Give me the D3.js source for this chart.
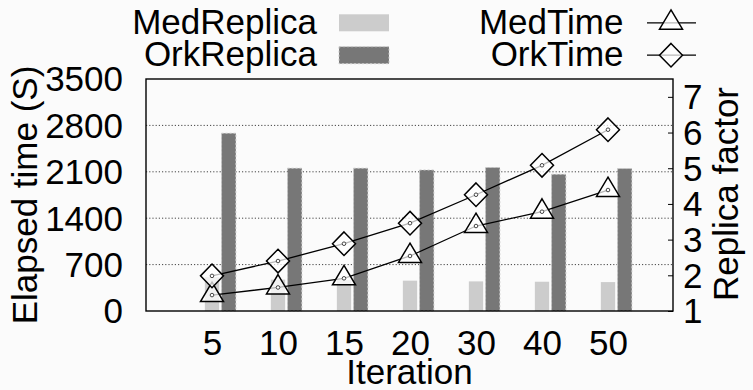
<!DOCTYPE html>
<html>
<head>
<meta charset="utf-8">
<script src="https://cdn.jsdelivr.net/npm/d3@7"></script>
<style>
  html, body { margin: 0; padding: 0; background: #fbfbfb; }
  svg { display: block; font-family: "Liberation Sans", Arial, sans-serif; }
</style>
</head>
<body>
<svg id="chart" width="753" height="390"></svg>
<script>
// Iterations on the x axis
const iterations = ["5", "10", "15", "20", "30", "40", "50"];
// Replica factor per iteration (right axis, bars)
const medReplica = [1.95, 1.88, 1.87, 1.85, 1.83, 1.82, 1.81];
const orkReplica = [5.98, 5.0, 5.0, 4.95, 5.02, 4.83, 4.99];
// Elapsed time in seconds (left axis, lines)
const medTime = [240, 355, 493, 830, 1282, 1498, 1825];
const orkTime = [530, 754, 1015, 1325, 1754, 2198, 2735];
// Axis ticks
const timeTicks = [0, 700, 1400, 2100, 2800, 3500];
const replicaTicks = [1, 2, 3, 4, 5, 6, 7];

const plot = { left: 146, right: 673, top: 79, bottom: 311 };
const FONT = 35;
const FAMILY = "Liberation Sans, Arial, sans-serif";

const svg = d3.select("#chart");

const x = d3.scalePoint()
  .domain(iterations)
  .range([plot.left + 66, plot.left + 462]);
const yTime = d3.scaleLinear().domain([0, 3500]).range([plot.bottom, plot.top]);
const yRep = d3.scaleLinear().domain([1, 7.5]).range([plot.bottom, plot.top]);

const barW = 14.3;
const barGap = 16.7;

// Dotted horizontal grid from the time axis
svg.append("g")
  .selectAll("line")
  .data(timeTicks.filter(t => t > 0 && t < 3500))
  .join("line")
  .attr("x1", plot.left).attr("x2", plot.right)
  .attr("y1", d => yTime(d)).attr("y2", d => yTime(d))
  .attr("stroke", "#444").attr("stroke-width", 1)
  .attr("stroke-dasharray", "1.2,2");

// Replica bars
const bars = svg.append("g");
bars.selectAll("rect.med")
  .data(iterations)
  .join("rect")
  .attr("class", "med")
  .attr("x", d => x(d) - barW / 2)
  .attr("width", barW)
  .attr("y", (d, i) => yRep(medReplica[i]))
  .attr("height", (d, i) => yRep(1) - yRep(medReplica[i]))
  .attr("fill", "#cccccc");
bars.selectAll("rect.ork")
  .data(iterations)
  .join("rect")
  .attr("class", "ork")
  .attr("x", d => x(d) + barGap - barW / 2)
  .attr("width", barW)
  .attr("y", (d, i) => yRep(orkReplica[i]))
  .attr("height", (d, i) => yRep(1) - yRep(orkReplica[i]))
  .attr("fill", "#777777")
  .attr("stroke", "#c8c8c8").attr("stroke-width", 1)
  .attr("stroke-dasharray", "2,2");

// Marker shapes
function triPath(s) {
  // centroid at origin, width s
  const h = s * 0.84;
  return `M0,${-2 * h / 3} L${s / 2},${h / 3} L${-s / 2},${h / 3} Z`;
}
function diaPath(s) {
  return `M0,${-s / 2 - 0.3} L${s / 2},0 L0,${s / 2 + 0.3} L${-s / 2},0 Z`;
}

const line = d3.line();
function drawSeries(values, shape) {
  const pts = iterations.map((d, i) => [x(d), yTime(values[i])]);
  const g = svg.append("g");
  g.append("path")
    .attr("d", line(pts))
    .attr("fill", "none").attr("stroke", "#000").attr("stroke-width", 1.3);
  g.selectAll("path.m")
    .data(pts)
    .join("path")
    .attr("class", "m")
    .attr("transform", p => `translate(${p[0]},${p[1]})`)
    .attr("d", shape)
    .attr("fill", "rgba(255,255,255,0.72)")
    .attr("stroke", "#000").attr("stroke-width", 1.5);
  g.selectAll("circle")
    .data(pts)
    .join("circle")
    .attr("cx", p => p[0]).attr("cy", p => p[1])
    .attr("r", 1.8)
    .attr("fill", "#fff").attr("stroke", "#333").attr("stroke-width", 0.9);
}
drawSeries(medTime, triPath(23));
drawSeries(orkTime, diaPath(23));

// Frame
svg.append("rect")
  .attr("x", plot.left).attr("y", plot.top)
  .attr("width", plot.right - plot.left).attr("height", plot.bottom - plot.top)
  .attr("fill", "none").attr("stroke", "#000").attr("stroke-width", 1.4);

// Left axis
const axL = svg.append("g")
  .attr("transform", `translate(${plot.left},0)`)
  .call(d3.axisLeft(yTime).tickValues(timeTicks).tickFormat(d3.format("d"))
    .tickSize(0).tickPadding(23));
axL.select(".domain").remove();
axL.selectAll("text").attr("font-size", FONT).attr("fill", "#000")
  .attr("font-family", FAMILY).attr("dy", "0.34em");

// Right axis
const axR = svg.append("g")
  .attr("transform", `translate(${plot.right},0)`)
  .call(d3.axisRight(yRep).tickValues(replicaTicks).tickFormat(d3.format("d"))
    .tickSizeInner(-5).tickSizeOuter(0).tickPadding(10));
axR.select(".domain").remove();
axR.selectAll("line").attr("stroke", "#000").attr("stroke-width", 1);
axR.selectAll("text").attr("font-size", FONT).attr("fill", "#000")
  .attr("font-family", FAMILY).attr("dy", "0.34em");

// Bottom axis
const axB = svg.append("g")
  .attr("transform", `translate(0,${plot.bottom})`)
  .call(d3.axisBottom(x).tickSize(0).tickPadding(19));
axB.select(".domain").remove();
axB.selectAll("text").attr("font-size", FONT).attr("fill", "#000")
  .attr("font-family", FAMILY);

// Axis titles
svg.append("text")
  .attr("transform", `translate(37,${(plot.top + plot.bottom) / 2}) rotate(-90)`)
  .attr("text-anchor", "middle").attr("font-size", FONT)
  .text("Elapsed time (S)");
svg.append("text")
  .attr("transform", `translate(738,${(plot.top + plot.bottom) / 2 - 1}) rotate(-90)`)
  .attr("text-anchor", "middle").attr("font-size", FONT)
  .text("Replica factor");
svg.append("text")
  .attr("x", (plot.left + plot.right) / 2).attr("y", 384)
  .attr("text-anchor", "middle").attr("font-size", FONT)
  .text("Iteration");

// Legend
const rowY = [22.8, 55.2];
const legBars = [
  { name: "MedReplica", fill: "#cccccc", dashed: false },
  { name: "OrkReplica", fill: "#777777", dashed: true }
];
const legLines = [
  { name: "MedTime", shape: triPath(23) },
  { name: "OrkTime", shape: diaPath(23) }
];
legBars.forEach((d, i) => {
  svg.append("text")
    .attr("x", 317).attr("y", rowY[i] + 11)
    .attr("text-anchor", "end").attr("font-size", FONT)
    .text(d.name);
  svg.append("rect")
    .attr("x", 339).attr("y", rowY[i] - 8.5)
    .attr("width", 50).attr("height", 17)
    .attr("fill", d.fill)
    .attr("stroke", d.dashed ? "#c8c8c8" : "none")
    .attr("stroke-dasharray", "2,2").attr("stroke-width", 1);
});
legLines.forEach((d, i) => {
  svg.append("text")
    .attr("x", 623.5).attr("y", rowY[i] + 11)
    .attr("text-anchor", "end").attr("font-size", FONT)
    .text(d.name);
  svg.append("line")
    .attr("x1", 647).attr("x2", 696)
    .attr("y1", rowY[i]).attr("y2", rowY[i])
    .attr("stroke", "#000").attr("stroke-width", 1.3);
  svg.append("path")
    .attr("transform", `translate(671,${rowY[i]})`)
    .attr("d", d.shape)
    .attr("fill", "rgba(255,255,255,0.72)")
    .attr("stroke", "#000").attr("stroke-width", 1.5);
});
</script>
</body>
</html>
